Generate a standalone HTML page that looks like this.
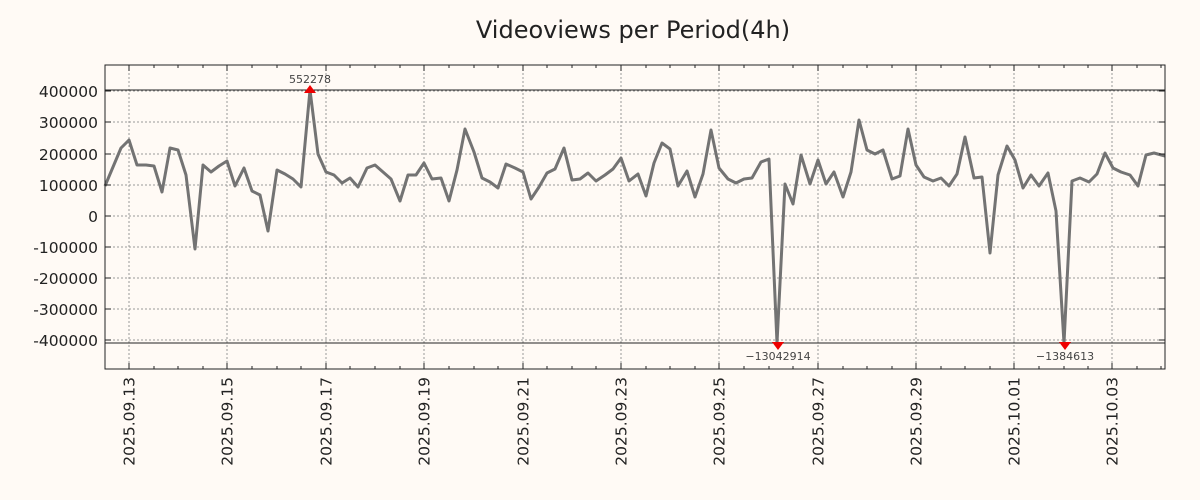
<!DOCTYPE html>
<html><head><meta charset="utf-8"><style>
body{margin:0;background:#fffaf5;}
svg{display:block;font-family:"DejaVu Sans","Liberation Sans",sans-serif;}
</style></head><body>
<svg width="1200" height="500" xmlns="http://www.w3.org/2000/svg">
<rect width="1200" height="500" fill="#fffaf5"/>
<text x="633" y="38" font-size="24" text-anchor="middle" fill="#222">Videoviews per Period(4h)</text>
<g stroke="#999" stroke-dasharray="2,2" stroke-width="1">
<line x1="105" x2="1165" y1="91" y2="91"/><line x1="105" x2="1165" y1="122" y2="122"/><line x1="105" x2="1165" y1="154" y2="154"/><line x1="105" x2="1165" y1="185" y2="185"/><line x1="105" x2="1165" y1="216" y2="216"/><line x1="105" x2="1165" y1="247" y2="247"/><line x1="105" x2="1165" y1="278" y2="278"/><line x1="105" x2="1165" y1="309" y2="309"/><line x1="105" x2="1165" y1="340" y2="340"/>
<line y1="65" y2="369" x1="129" x2="129"/><line y1="65" y2="369" x1="227" x2="227"/><line y1="65" y2="369" x1="326" x2="326"/><line y1="65" y2="369" x1="424" x2="424"/><line y1="65" y2="369" x1="523" x2="523"/><line y1="65" y2="369" x1="621" x2="621"/><line y1="65" y2="369" x1="719" x2="719"/><line y1="65" y2="369" x1="818" x2="818"/><line y1="65" y2="369" x1="916" x2="916"/><line y1="65" y2="369" x1="1014" x2="1014"/><line y1="65" y2="369" x1="1112" x2="1112"/>
</g>
<line x1="105" x2="1165" y1="90" y2="90" stroke="#222"/>
<line x1="105" x2="1165" y1="343" y2="343" stroke="#222"/>
<polyline fill="none" stroke="#737373" stroke-width="3" stroke-linejoin="round" points="105,186 121,148 129,140 137,165 146,165 154,166 162,192 170,148 178,150 186,175 195,249 203,165 211,172 219,166 227,161 235,186 244,168 252,191 260,195 268,231 277,170 285,174 293,179 301,187 310,90 318,154 326,172 334,175 342,183 350,178 358,187 367,168 375,165 383,172 391,179 400,201 408,175 416,175 424,163 432,179 441,178 449,201 457,170 465,129 474,152 482,178 490,182 498,188 506,164 515,168 523,172 531,199 539,187 547,173 555,169 564,148 572,180 580,179 588,173 596,181 605,175 613,169 621,158 629,181 638,174 646,196 654,163 662,143 670,149 678,186 687,171 695,197 703,174 711,130 719,168 728,179 736,183 744,179 752,178 761,162 769,159 777,343 785,184 793,204 801,155 810,184 818,160 826,184 834,172 843,197 851,172 859,120 867,150 875,154 883,150 892,179 900,176 908,129 916,165 924,177 933,181 941,178 949,186 957,174 965,137 974,178 982,177 990,253 998,175 1007,146 1015,160 1023,188 1031,175 1039,186 1048,173 1056,211 1064,343 1072,181 1080,178 1089,182 1097,174 1105,153 1113,168 1121,172 1130,175 1138,186 1146,155 1154,153 1165,156"/>
<path stroke="#222" stroke-width="1" fill="none" d="M129,65v6M129,369v-6M227,65v6M227,369v-6M326,65v6M326,369v-6M424,65v6M424,369v-6M523,65v6M523,369v-6M621,65v6M621,369v-6M719,65v6M719,369v-6M818,65v6M818,369v-6M916,65v6M916,369v-6M1014,65v6M1014,369v-6M1112,65v6M1112,369v-6
M154,65v3M154,369v-3M178,65v3M178,369v-3M203,65v3M203,369v-3M252,65v3M252,369v-3M277,65v3M277,369v-3M301,65v3M301,369v-3M350,65v3M350,369v-3M375,65v3M375,369v-3M400,65v3M400,369v-3M449,65v3M449,369v-3M474,65v3M474,369v-3M498,65v3M498,369v-3M547,65v3M547,369v-3M572,65v3M572,369v-3M596,65v3M596,369v-3M646,65v3M646,369v-3M670,65v3M670,369v-3M695,65v3M695,369v-3M744,65v3M744,369v-3M769,65v3M769,369v-3M793,65v3M793,369v-3M843,65v3M843,369v-3M867,65v3M867,369v-3M892,65v3M892,369v-3M941,65v3M941,369v-3M965,65v3M965,369v-3M990,65v3M990,369v-3M1039,65v3M1039,369v-3M1064,65v3M1064,369v-3M1088,65v3M1088,369v-3M1137,65v3M1137,369v-3M1161,65v3M1161,369v-3
M105,91h6M1165,91h-6M105,122h6M1165,122h-6M105,154h6M1165,154h-6M105,185h6M1165,185h-6M105,216h6M1165,216h-6M105,247h6M1165,247h-6M105,278h6M1165,278h-6M105,309h6M1165,309h-6M105,340h6M1165,340h-6"/>
<rect x="105" y="65" width="1060" height="304" fill="none" stroke="#222"/>
<polygon points="304,93 316,93 310,85" fill="#e00"/>
<polygon points="772,342 784,342 778,350" fill="#e00"/>
<polygon points="1059,342 1071,342 1065,350" fill="#e00"/>
<g font-size="11" fill="#444" text-anchor="middle">
<text x="310" y="83">552278</text>
<text x="778" y="360">−13042914</text>
<text x="1065" y="360">−1384613</text>
</g>
<g font-size="15.5" fill="#222" text-anchor="end">
<text x="98" y="97">400000</text><text x="98" y="128">300000</text><text x="98" y="160">200000</text><text x="98" y="191">100000</text><text x="98" y="222">0</text><text x="98" y="253">-100000</text><text x="98" y="284">-200000</text><text x="98" y="315">-300000</text><text x="98" y="346">-400000</text>
</g>
<g font-size="15.5" fill="#222" text-anchor="end">
<text transform="translate(134.5,377) rotate(-90)">2025.09.13</text>
<text transform="translate(232.5,377) rotate(-90)">2025.09.15</text>
<text transform="translate(331.5,377) rotate(-90)">2025.09.17</text>
<text transform="translate(429.5,377) rotate(-90)">2025.09.19</text>
<text transform="translate(528.5,377) rotate(-90)">2025.09.21</text>
<text transform="translate(626.5,377) rotate(-90)">2025.09.23</text>
<text transform="translate(724.5,377) rotate(-90)">2025.09.25</text>
<text transform="translate(823.5,377) rotate(-90)">2025.09.27</text>
<text transform="translate(921.5,377) rotate(-90)">2025.09.29</text>
<text transform="translate(1019.5,377) rotate(-90)">2025.10.01</text>
<text transform="translate(1117.5,377) rotate(-90)">2025.10.03</text>
</g>
</svg>
</body></html>
